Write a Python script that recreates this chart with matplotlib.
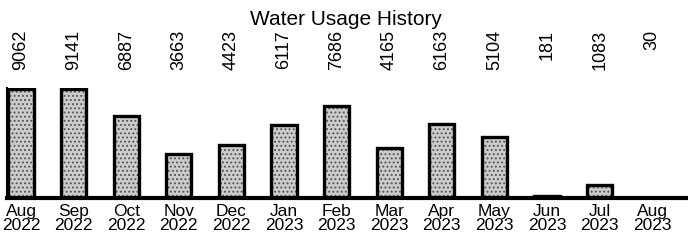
import matplotlib
matplotlib.use("Agg")
import matplotlib.pyplot as plt
from matplotlib.transforms import blended_transform_factory

plt.rcParams['font.family'] = ['Liberation Sans', 'DejaVu Sans']
plt.rcParams['hatch.linewidth'] = 0.9

months = ["Aug", "Sep", "Oct", "Nov", "Dec", "Jan", "Feb", "Mar", "Apr", "May", "Jun", "Jul", "Aug"]
years = ["2022", "2022", "2022", "2022", "2022", "2023", "2023", "2023", "2023", "2023", "2023", "2023", "2023"]
usage = [9062, 9141, 6887, 3663, 4423, 6117, 7686, 4165, 6163, 5104, 181, 1083, 30]
title = "Water Usage History"

fig = plt.figure(figsize=(6.88, 2.42), dpi=100)
ax = fig.add_axes([0.01, 0.182, 0.99, 0.455])

x = list(range(len(usage)))
ax.bar(x, usage, width=0.48, color="#cccccc", edgecolor="#555555", hatch="....", linewidth=0)
ax.bar(x, usage, width=0.48, fill=False, edgecolor="black", linewidth=2.4)

ax.set_xlim(-0.27, 12.68)
ax.set_ylim(0, 9200)

ax.set_xticks(x)
ax.set_xticklabels([f"{m}\n{y}" for m, y in zip(months, years)], fontsize=12.5, linespacing=0.92)
ax.tick_params(axis="x", length=0, pad=4)
ax.set_yticks([])

for s in ["top", "right"]:
    ax.spines[s].set_visible(False)
ax.spines["bottom"].set_linewidth(3)
ax.spines["left"].set_linewidth(1.5)

trans = blended_transform_factory(ax.transData, fig.transFigure)
for xi, v in zip(x, usage):
    ax.text(xi, 1 - 30 / 242, str(v), rotation=90, ha="center", va="top",
            fontsize=13, transform=trans, clip_on=False)

fig.text(0.503, 1 - 25 / 242, title, ha="center", va="baseline", fontsize=15)

fig.savefig("out.png", dpi=100)
